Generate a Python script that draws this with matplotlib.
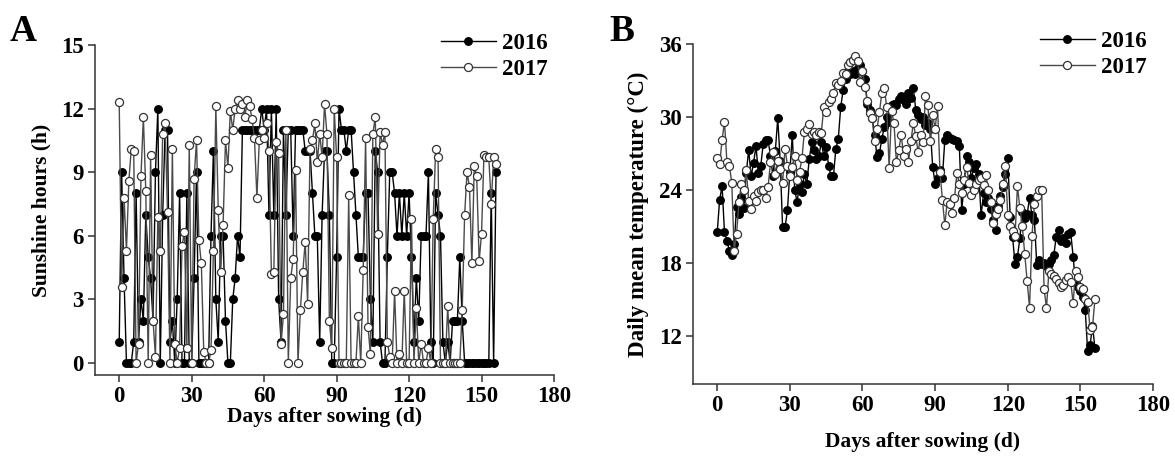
import matplotlib

matplotlib.use("Agg")

import matplotlib.pyplot as plt
import numpy as np

plt.rcParams["font.family"] = ["Liberation Serif", "DejaVu Serif"]
plt.rcParams["font.weight"] = "bold"
plt.rcParams["axes.labelweight"] = "bold"

days = np.arange(0, 157)

# sunshine hours (h), 2016 and 2017
sun_2016 = [
    1, 9, 4, 0, 0, 0, 1, 8, 1, 3,
    2, 7, 5, 4, 2, 9, 12, 0, 7, 11,
    11, 1, 2, 0, 3, 8, 0, 0, 8, 0,
    0, 4, 9, 0, 0, 0, 0, 0, 6, 10,
    3, 1, 6, 6, 2, 0, 0, 3, 4, 6,
    5, 11, 11, 11, 11, 11, 11, 11, 11, 12,
    11, 12, 7, 12, 7, 12, 3, 1, 11, 7,
    11, 11, 6, 11, 11, 11, 11, 10, 10, 10,
    8, 6, 6, 1, 7, 10, 10, 7, 0, 0,
    5, 12, 11, 11, 10, 11, 11, 9, 7, 5,
    5, 5, 8, 8, 3, 1, 10, 9, 1, 0,
    0, 5, 9, 9, 8, 6, 8, 6, 8, 6,
    8, 5, 1, 4, 2, 6, 6, 6, 9, 1,
    0, 8, 7, 6, 1, 0, 1, 0, 2, 2,
    2, 5, 2, 0, 0, 0, 0, 0, 0, 0,
    0, 0, 0, 0, 8, 0, 9,
]
sun_2017 = [
    12.3, 3.6, 7.8, 5.3, 8.6, 10.1, 10.0, 0, 0.9, 8.8,
    11.6, 8.1, 0, 9.8, 2.0, 0.3, 6.9, 5.3, 10.8, 11.3,
    7.1, 0, 10.1, 0.9, 0, 0.7, 5.5, 6.2, 0.7, 10.3,
    0, 8.7, 10.5, 5.8, 4.7, 0.5, 0, 0, 0.6, 5.3,
    12.1, 7.2, 4.3, 6.5, 10.5, 9.2, 11.9, 11.0, 12.0, 12.4,
    12.0, 12.2, 11.6, 12.4, 12.1, 11.5, 10.6, 7.8, 10.5, 11.0,
    10.6, 11.3, 10.0, 4.2, 4.3, 10.4, 9.9, 0.9, 2.3, 11.0,
    0, 4.0, 4.9, 9.1, 0, 2.5, 4.3, 5.7, 2.8, 10.1,
    10.5, 11.3, 9.5, 10.8, 9.7, 12.2, 10.8, 2.0, 0.7, 12.0,
    9.7, 0, 0, 0, 0, 7.9, 0, 0, 0, 2.2,
    0, 4.4, 10.6, 1.7, 0.4, 10.8, 11.6, 6.1, 10.9, 10.3,
    10.9, 1.0, 0.3, 0, 3.4, 0, 0.4, 0, 3.4, 0,
    0, 6.8, 0, 2.6, 0, 0.9, 0, 0, 0.7, 0,
    6.8, 10.1, 9.7, 0, 0, 0, 2.7, 0, 0, 0,
    0, 0, 2.5, 7.0, 9.0, 8.3, 4.7, 9.3, 8.8, 4.8,
    6.1, 9.8, 9.7, 9.7, 7.5, 9.7, 9.4,
]

# daily mean temperature (°C), 2016 and 2017
temp_2016 = [
    20.5, 23.2, 24.3, 20.5, 19.8, 19.0, 18.6, 19.5, 22.6, 22.0,
    23.4, 22.5, 25.4, 27.3, 25.1, 26.2, 27.6, 25.4, 26.0, 27.8,
    28.1, 28.1, 26.8, 25.1, 27.2, 29.9, 26.4, 20.9, 20.9, 22.3,
    25.5, 28.5, 24.0, 23.0, 24.5, 23.8, 25.3, 24.5, 26.5, 27.9,
    27.3, 26.5, 26.8, 27.9, 26.8, 27.5, 26.0, 25.1, 25.1, 27.4,
    28.2, 30.8, 32.2, 33.1, 33.8, 33.5, 33.8, 33.5, 34.0, 34.3,
    33.8, 33.1, 31.1, 30.6, 29.9, 28.5, 26.7, 27.0, 28.2, 29.2,
    30.0, 29.6, 31.0, 31.1, 31.0, 31.5, 31.7, 31.4, 31.1, 32.0,
    31.6, 32.4, 30.6, 30.2, 29.8, 30.0, 29.3, 29.5, 29.0, 25.9,
    24.5, 25.0, 25.6, 25.0, 28.1, 28.5, 28.3, 28.2, 28.1, 28.0,
    27.6, 22.3, 24.5, 26.8, 26.3, 25.0, 25.8, 26.1, 25.3, 21.9,
    23.7, 23.0, 23.3, 22.4, 21.5, 20.7, 22.7, 23.5, 24.2, 25.3,
    26.6, 21.8, 20.1, 17.9, 18.5, 20.0, 22.2, 21.7, 22.0, 23.3,
    21.9, 21.5, 17.8, 18.2, 17.9, 18.0, 17.7, 17.9, 18.2, 18.6,
    20.1, 20.7, 19.8, 20.0, 19.6, 20.4, 20.5, 18.5, 16.3, 16.0,
    15.7, 15.2, 14.1, 10.7, 11.2, 12.8, 11.0,
]
temp_2017 = [
    26.6, 26.1, 28.1, 29.6, 26.3, 26.0, 24.6, 19.0, 20.4, 23.0,
    24.5, 24.0, 25.6, 23.1, 22.4, 23.5, 23.1, 23.8, 24.0, 24.0,
    23.3, 24.2, 26.3, 27.1, 25.3, 26.4, 25.7, 24.6, 27.4, 26.0,
    25.1, 25.9, 26.8, 24.8, 25.5, 26.6, 28.8, 29.0, 29.4, 28.6,
    28.8, 28.5, 28.8, 28.7, 30.8, 30.4, 31.2, 31.5, 32.0, 32.8,
    32.6, 33.0, 33.6, 33.5, 34.3, 34.5, 34.7, 35.0, 34.6, 32.9,
    33.8, 32.5, 31.3, 30.3, 29.9, 28.0, 29.0, 30.4, 32.0, 32.4,
    30.8, 25.8, 30.5, 29.5, 26.3, 27.3, 28.5, 26.8, 27.4, 26.3,
    28.0, 29.5, 28.4, 27.1, 28.5, 27.9, 31.7, 31.0, 28.0, 30.2,
    29.0, 30.9, 25.5, 23.2, 21.1, 23.0, 22.8, 22.1, 23.3, 25.4,
    24.5, 23.7, 24.8, 25.9, 24.6, 23.6, 24.0, 24.5, 24.8, 25.0,
    24.4, 25.2, 24.0, 23.0, 21.3, 22.0, 22.4, 23.2, 24.5, 26.0,
    21.9, 21.0, 20.6, 20.2, 24.3, 22.5, 21.0, 18.7, 16.5, 14.3,
    20.2, 22.8, 23.5, 24.0, 24.0, 15.8, 14.3, 17.3, 17.1, 16.9,
    16.7, 16.3, 16.0, 16.2, 16.6, 16.8, 16.4, 14.7, 17.3, 16.8,
    16.0, 15.8, 15.0, 14.8, 12.5, 12.7, 15.0,
]

x_ticks = [0, 30, 60, 90, 120, 150, 180]
sun_ticks = [0, 3, 6, 9, 12, 15]
temp_ticks = [12, 18, 24, 30, 36]

fig = plt.figure(figsize=(11.75, 4.59), dpi=100)
ax_a = fig.add_axes([0.0809, 0.183, 0.3906, 0.719])
ax_b = fig.add_axes([0.5898, 0.163, 0.3915, 0.741])

style16 = dict(color="black", linewidth=1.0, marker="o", markersize=5.4,
               markerfacecolor="black", markeredgecolor="black")
style17 = dict(color="#4a4a4a", linewidth=1.0, marker="o", markersize=5.8,
               markerfacecolor="white", markeredgecolor="#333333",
               markeredgewidth=0.9)

ax_a.plot(days, sun_2016, label="2016", **style16)
ax_a.plot(days, sun_2017, label="2017", **style17)
ax_b.plot(days, temp_2016, label="2016", **style16)
ax_b.plot(days, temp_2017, label="2017", **style17)

for ax in (ax_a, ax_b):
    ax.set_xlim(-10, 180)
    ax.set_xticks(x_ticks)
    ax.spines[["top", "right"]].set_visible(False)
    for side in ("left", "bottom"):
        ax.spines[side].set_color("#333333")
        ax.spines[side].set_linewidth(1.1)
    ax.tick_params(direction="out", length=5, width=1.1, color="#333333",
                   labelsize=16.5, pad=3)
    for lab in ax.get_xticklabels() + ax.get_yticklabels():
        lab.set_fontweight("bold")
    ax.legend(loc="upper right", bbox_to_anchor=(1.03, 1.1), frameon=False,
              handlelength=2.4, handletextpad=0.25, labelspacing=0.25,
              prop={"family": "Liberation Serif", "weight": "bold",
                    "size": 16.5})

ax_a.set_ylim(-0.57, 15)
ax_a.set_yticks(sun_ticks)
ax_a.set_xlabel("Days after sowing (d)", fontsize=15.5, fontweight="bold",
                labelpad=0)
ax_a.set_ylabel("Sunshine hours (h)", fontsize=15.5, fontweight="bold",
                labelpad=7)

ax_b.set_ylim(8, 36)
ax_b.set_yticks(temp_ticks)
ax_b.set_xlabel("Days after sowing (d)", fontsize=15.5, fontweight="bold",
                labelpad=11)
ax_b.set_ylabel("Daily mean temperature (°C)", fontsize=16.5,
                fontweight="bold", labelpad=7)

fig.text(0.008, 0.91, "A", fontsize=27, fontweight="bold")
fig.text(0.519, 0.91, "B", fontsize=27, fontweight="bold")

fig.savefig("out.png", dpi=100)
plt.close(fig)
